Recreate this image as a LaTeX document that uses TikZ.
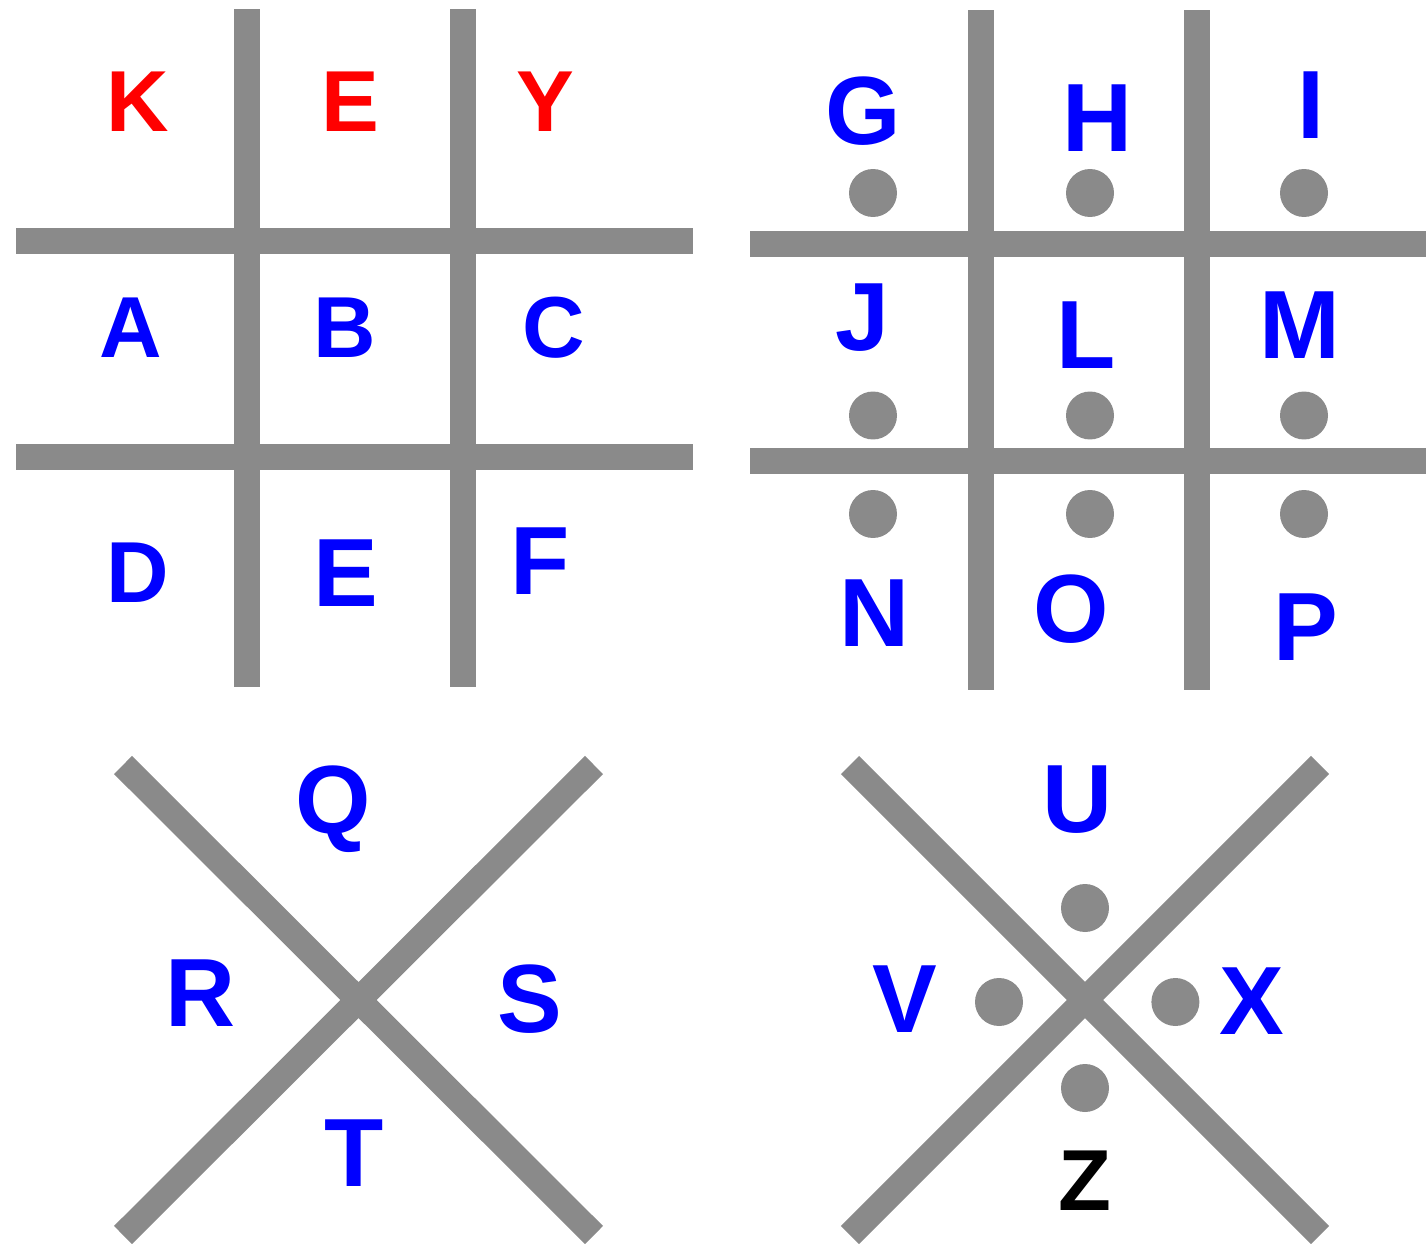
\documentclass[tikz,border=0pt]{standalone}
\usepackage{fontspec}
\setmainfont{Liberation Sans}
\definecolor{bargray}{RGB}{138,138,138}
\definecolor{pblue}{RGB}{0,0,255}
\definecolor{pred}{RGB}{255,0,0}
\tikzset{
  bar/.style={draw=bargray, line width=0.51cm, line cap=butt},
  dot/.style={fill=bargray},
  letS/.style={font=\fontsize{49.3}{50}\selectfont\bfseries, inner sep=0pt, anchor=base, text=pblue},
  letB/.style={font=\fontsize{55.2}{56}\selectfont\bfseries, inner sep=0pt, anchor=base, text=pblue},
}
\begin{document}
\begin{tikzpicture}[x=0.02cm,y=-0.02cm]
\useasboundingbox (0,0) rectangle (1428,1244);
% ---- grid 1
\draw[bar] (247,9) -- (247,687);
\draw[bar] (463,9) -- (463,687);
\draw[bar] (16,241) -- (693,241);
\draw[bar] (16,457) -- (693,457);
\node[letS,text=pred] (k) at (137.5,131) {K};
\node[letS,text=pred] (e1) at (350,131) {E};
\node[letS,text=pred] (y) at (545,131) {Y};
\node[letS] (a) at (130.5,357) {A};
\node[letS] (b) at (345,357) {B};
\node[letS] (c) at (554,357) {C};
\node[letS] (d) at (138,602) {D};
\node[letB] (e2) at (346,606) {E};
\node[letB] (f) at (540,594) {F};
% ---- grid 2
\draw[bar] (981,10) -- (981,690);
\draw[bar] (1197,10) -- (1197,690);
\draw[bar] (750,244) -- (1426,244);
\draw[bar] (750,461) -- (1426,461);
\foreach \xx in {873,1090,1304}{
  \foreach \yy in {193,415.5,514}{
    \fill[dot] (\xx,\yy) circle[radius=0.48cm];
  }
}
\node[letB] (g) at (863.5,144) {G};
\node[letB] (h) at (1098,151) {H};
\node[letB] (i) at (1311,138.5) {I};
\node[letB] (j) at (862,350) {J};
\node[letB] (l) at (1086.5,368.6) {L};
\node[letB] (m) at (1300,358) {M};
\node[letB] (n) at (875,646) {N};
\node[letB] (o) at (1071.7,642) {O};
\node[letB] (p) at (1306,660.5) {P};
% ---- X 1
\draw[bar] (123,765) -- (594,1235);
\draw[bar] (594,765) -- (123,1235);
\node[letB] (q) at (333,833) {Q};
\node[letB] (r) at (200.7,1026) {R};
\node[letB] (s) at (529.5,1032) {S};
\node[letB] (t) at (354,1186) {T};
% ---- X 2
\draw[bar] (850,765) -- (1320,1235);
\draw[bar] (1320,765) -- (850,1235);
\fill[dot] (1085,908) circle[radius=0.48cm];
\fill[dot] (999,1002) circle[radius=0.48cm];
\fill[dot] (1175.4,1002) circle[radius=0.48cm];
\fill[dot] (1085,1088) circle[radius=0.48cm];
\node[letB] (u) at (1077.5,832) {U};
\node[letB] (v) at (905,1032) {V};
\node[letB] (x) at (1251.5,1034.5) {X};
\node[letS,text=black] (z) at (1085,1210) {Z};
\end{tikzpicture}
\end{document}
